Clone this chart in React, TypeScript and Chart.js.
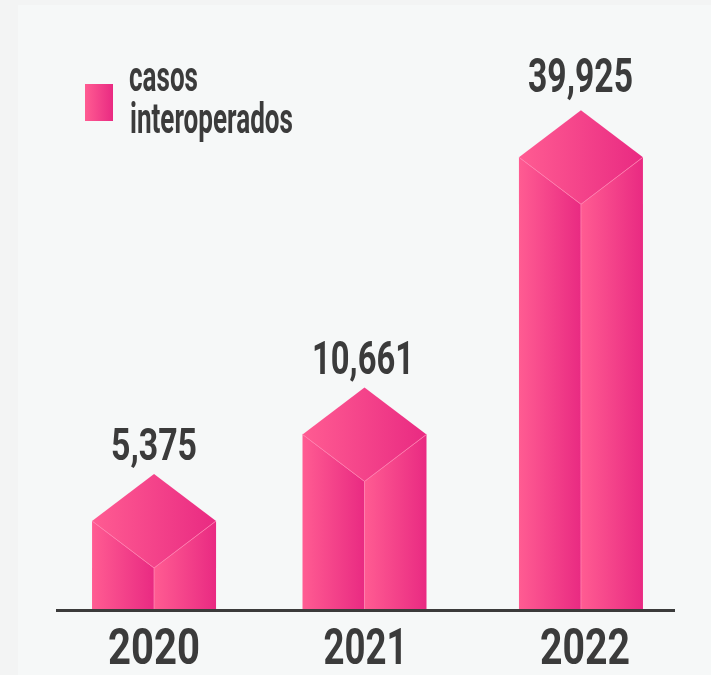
import React, { useEffect, useRef } from "react";
import { Chart, registerables, LinearScale, CategoryScale } from "chart.js";

const years = ["2020", "2021", "2022"];
const cases = [5375, 10661, 39925];
const valueLabels = ["5,375", "10,661", "39,925"];
const legendLines = ["casos", "interoperados"];

const INK = "#3b3b3b";
const PINK_LIGHT = "#ff5c92";
const PINK_DARK = "#e92a82";
const EDGE = "#ff7fae";
const FONT = 'Roboto, "Liberation Sans", sans-serif';

function fitText(
  ctx: CanvasRenderingContext2D,
  text: string,
  x: number,
  baseline: number,
  width: number,
  font: string
) {
  ctx.save();
  ctx.font = font;
  ctx.fillStyle = INK;
  ctx.textAlign = "left";
  ctx.textBaseline = "alphabetic";
  const natural = ctx.measureText(text).width;
  ctx.translate(x, baseline);
  ctx.scale(width / natural, 1);
  ctx.fillText(text, 0, 0);
  ctx.restore();
}

// The reference's bars are not proportional above 2021: its value axis is compressed past this point.
const AXIS_BREAK = 10661;
const AXIS_COMPRESSION = 0.5783;

class BrokenLinearScale extends LinearScale {
  static id = "brokenLinear";
  static defaults = LinearScale.defaults;
  getPixelForValue(value: number) {
    const v = value <= AXIS_BREAK ? value : AXIS_BREAK + (value - AXIS_BREAK) * AXIS_COMPRESSION;
    return super.getPixelForValue(v);
  }
}

// The reference's columns are not evenly spaced, and its year labels use a condensed face.
const barShift = [-5.8, -1, 9.8];
const tickShift = [0, 1, 4];
const tickWidths = [92, 84, 90];
const TICK_BASELINE_OFFSET = 53.5;

class UnevenCategoryScale extends CategoryScale {
  static id = "unevenCategory";
  static defaults = CategoryScale.defaults;
  getPixelForValue(value: number, index?: number) {
    const i = Math.round(typeof value === "number" ? value : (index as number));
    return super.getPixelForValue(value, index) + (barShift[i] ?? 0);
  }
  getPixelForTick(index: number) {
    return super.getPixelForTick(index) + (tickShift[index] ?? 0);
  }
  drawLabels() {
    const ctx = (this as any).ctx as CanvasRenderingContext2D;
    (this as any).ticks.forEach((tick: any, i: number) => {
      const w = tickWidths[i];
      fitText(
        ctx,
        String(tick.label),
        this.getPixelForTick(i) - w / 2,
        (this as any).top + TICK_BASELINE_OFFSET,
        w,
        `bold 50px ${FONT}`
      );
    });
  }
}

Chart.register(...registerables, BrokenLinearScale, UnevenCategoryScale);

function hGradient(ctx: CanvasRenderingContext2D, x0: number, x1: number) {
  const g = ctx.createLinearGradient(x0, 0, x1, 0);
  g.addColorStop(0, PINK_LIGHT);
  g.addColorStop(1, PINK_DARK);
  return g;
}

function poly(ctx: CanvasRenderingContext2D, pts: number[][], fill: CanvasGradient) {
  ctx.beginPath();
  pts.forEach(([x, y], i) => (i ? ctx.lineTo(x, y) : ctx.moveTo(x, y)));
  ctx.closePath();
  ctx.fillStyle = fill;
  ctx.fill();
}

const labelBoxes = [
  { left: 111, width: 86, gap: 14, size: 44 },
  { left: 312, width: 102, gap: 13, size: 46 },
  { left: 528, width: 105, gap: 18, size: 49 },
];

const RISE = 47;

const isoBars = {
  id: "isoBars",
  afterDatasetsDraw(chart: Chart) {
    const ctx = chart.ctx;
    const meta = chart.getDatasetMeta(0);
    ctx.save();
    meta.data.forEach((el: any, i: number) => {
      const w = el.width;
      const l = el.x - w / 2;
      const r = el.x + w / 2;
      const c = el.x;
      const top = el.y;
      const base = el.base;
      poly(ctx, [[l, top], [c, top + RISE], [c, base], [l, base]], hGradient(ctx, l, c));
      poly(ctx, [[c, top + RISE], [r, top], [r, base], [c, base]], hGradient(ctx, c, r));
      poly(ctx, [[l, top], [c, top - RISE], [r, top], [c, top + RISE]], hGradient(ctx, l, r));
      ctx.strokeStyle = EDGE;
      ctx.lineWidth = 0.8;
      ctx.beginPath();
      ctx.moveTo(l, top);
      ctx.lineTo(c, top + RISE);
      ctx.lineTo(r, top);
      ctx.moveTo(c, top + RISE);
      ctx.lineTo(c, base);
      ctx.stroke();
      const box = labelBoxes[i];
      fitText(
        ctx,
        valueLabels[i],
        box.left,
        top - RISE - box.gap,
        box.width,
        `bold ${box.size}px ${FONT}`
      );
    });
    // Legend
    ctx.fillStyle = hGradient(ctx, 85, 113);
    ctx.fillRect(85, 84, 28, 37);
    fitText(ctx, legendLines[0], 129, 91, 69, `bold 42px ${FONT}`);
    fitText(ctx, legendLines[1], 130, 133, 163, `bold 42px ${FONT}`);
    ctx.restore();
  },
};

export default function App() {
  const ref = useRef<HTMLCanvasElement>(null);
  useEffect(() => {
    const chart = new Chart(ref.current!, {
      type: "bar",
      data: {
        labels: years,
        datasets: [
          {
            label: legendLines.join(" "),
            data: cases,
            backgroundColor: "rgba(0,0,0,0)",
            barThickness: 124,
          },
        ],
      },
      options: {
        animation: false,
        responsive: false,
        layout: { padding: { left: 57, right: 37, top: 0, bottom: 4.5 } },
        plugins: { legend: { display: false }, tooltip: { enabled: false } },
        scales: {
          x: {
            type: "unevenCategory" as any,
            grid: { display: false, drawTicks: false },
            border: { display: true, color: INK, width: 3, z: 1 },
            ticks: {
              color: INK,
              padding: 0,
              maxRotation: 0,
              font: { family: FONT, size: 50, weight: "bold" },
            },
          },
          y: {
            type: "brokenLinear" as any,
            display: false,
            min: -92,
            max: 37186,
          },
        },
      },
      plugins: [isoBars],
    });
    return () => chart.destroy();
  }, []);
  return (
    <div style={{ position: "fixed", inset: 0, background: "#f3f4f4" }}>
      <div style={{ position: "absolute", left: 18, top: 5, right: 0, bottom: 0, background: "#f6f8f8" }} />
      <canvas ref={ref} width={711} height={675} style={{ position: "absolute", left: 0, top: 0 }} />
    </div>
  );
}
